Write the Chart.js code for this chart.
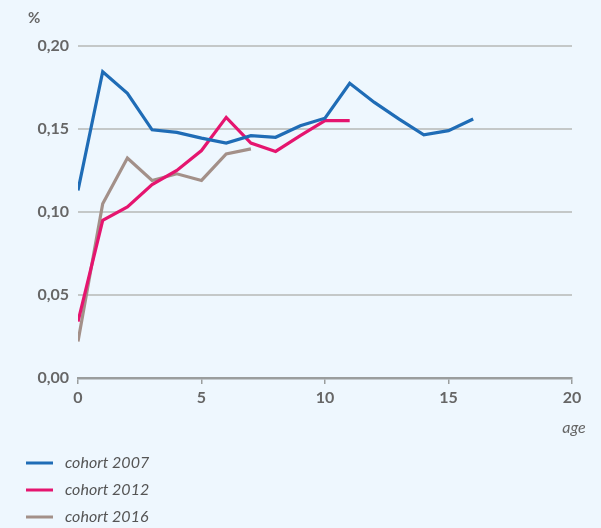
<!DOCTYPE html>
<html><head><meta charset="utf-8">
<script src="https://cdn.jsdelivr.net/npm/chart.js@4"></script>
<style>
html,body{margin:0;padding:0;background:#eef7fe;}
#wrap{position:relative;width:601px;height:528px;}
</style></head>
<body><div id="wrap"><canvas id="c" width="601" height="528"></canvas></div>
<script>
const ages = [0,1,2,3,4,5,6,7,8,9,10,11,12,13,14,15,16];
const cohort2007 = [0.113,0.1845,0.1715,0.1495,0.148,0.1445,0.1415,0.146,0.145,0.152,0.1565,0.1775,0.166,0.156,0.1465,0.149,0.156];
const cohort2012 = [0.034,0.095,0.103,0.1165,0.125,0.137,0.157,0.1415,0.1365,0.146,0.155,0.155];
const cohort2016 = [0.022,0.105,0.1325,0.119,0.123,0.119,0.135,0.138];
const seriesNames = ['cohort 2007','cohort 2012','cohort 2016'];
const colors = ['#1f6cb6','#e5156f','#a39089'];
const yTicks = [0,0.05,0.10,0.15,0.20];
const xTicks = [0,5,10,15,20];

const toPts = arr => arr.map((v,i)=>({x:ages[i],y:v}));
const FONT = "Lato, 'Open Sans', sans-serif";

const legendPlugin = {
  id:'customLegend',
  afterDraw(chart){
    const ctx = chart.ctx;
    ctx.save();
    const ys = [463,490,517];
    seriesNames.forEach((n,i)=>{
      ctx.strokeStyle = colors[i];
      ctx.lineWidth = 3;
      ctx.beginPath(); ctx.moveTo(26,ys[i]); ctx.lineTo(53,ys[i]); ctx.stroke();
      ctx.fillStyle = '#555';
      ctx.font = "italic 16px " + FONT;
      ctx.textBaseline = 'middle';
      ctx.fillText(n, 65, ys[i]);
    });
    ctx.font = "bold 15px " + FONT;
    ctx.fillStyle = '#666';
    ctx.textBaseline = 'middle';
    ctx.fillText('%', 28, 18);
    ctx.font = "italic 16px " + FONT;
    ctx.textAlign = 'center';
    ctx.fillText('age', 574, 428);
    ctx.restore();
  }
};

new Chart(document.getElementById('c'), {
  type:'line',
  data:{
    datasets:[
      {label:seriesNames[0], data:toPts(cohort2007), borderColor:colors[0]},
      {label:seriesNames[1], data:toPts(cohort2012), borderColor:colors[1]},
      {label:seriesNames[2], data:toPts(cohort2016), borderColor:colors[2]}
    ].map(d=>Object.assign(d,{borderWidth:3.2,pointRadius:0,tension:0,fill:false}))
  },
  options:{
    responsive:false, animation:false,
    layout:{padding:{left:0,right:29,top:46,bottom:120}},
    plugins:{legend:{display:false},tooltip:{enabled:false}},
    scales:{
      x:{type:'linear',min:0,max:20,
        afterBuildTicks(s){ s.ticks = xTicks.map(v=>({value:v})); },
        afterFit(s){ s.height = 30; },
        grid:{drawOnChartArea:false,drawTicks:true,tickLength:6,color:'#9a9d9d',lineWidth:1.5},
        border:{display:true,color:'#9a9d9d',width:2.5},
        ticks:{color:'#666',font:{family:FONT,size:16,weight:'bold'},padding:4,maxRotation:0}
      },
      y:{min:0,max:0.2,
        afterBuildTicks(s){ s.ticks = yTicks.map(v=>({value:v})); },
        afterFit(s){ s.width = 78; },
        grid:{drawTicks:false,color:'#c4c8c8',lineWidth:2},
        border:{display:false},
        ticks:{color:'#666',font:{family:FONT,size:16,weight:'bold'},padding:9,
          callback:v=>v.toFixed(2).replace('.',',')}
      }
    }
  },
  plugins:[legendPlugin]
});
</script></body></html>
